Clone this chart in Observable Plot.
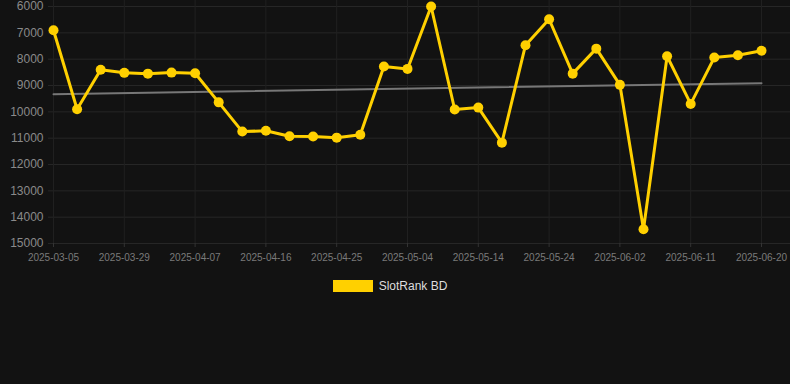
<!DOCTYPE html>
<html>
<head>
<meta charset="utf-8">
<script src="https://cdn.jsdelivr.net/npm/d3@7"></script>
<script src="https://cdn.jsdelivr.net/npm/@observablehq/plot@0.6"></script>
<style>
  html, body { margin: 0; padding: 0; background: #121212; }
  body { width: 790px; height: 384px; overflow: hidden; font-family: Arial, "Liberation Sans", sans-serif; }
  #legend { display: flex; justify-content: center; align-items: center; margin-top: 14px; font-size: 12px; color: #dddddd; position: relative; left: -5px; }
  #legend .sw { width: 40px; height: 12px; background: #FFD000; margin-right: 6px; }
</style>
</head>
<body>
<div id="chart"></div>
<div id="legend"><span class="sw"></span><span>SlotRank BD</span></div>
<script>
const dates = [
  "2025-03-05","2025-03-13","2025-03-21","2025-03-29","2025-04-01","2025-04-04","2025-04-07",
  "2025-04-10","2025-04-13","2025-04-16","2025-04-19","2025-04-22","2025-04-25","2025-04-28",
  "2025-05-01","2025-05-04","2025-05-07","2025-05-11","2025-05-14","2025-05-17","2025-05-21",
  "2025-05-24","2025-05-27","2025-05-30","2025-06-02","2025-06-05","2025-06-08","2025-06-11",
  "2025-06-14","2025-06-17","2025-06-20"
];
const ranks = [
  6900, 9900, 8400, 8520, 8550, 8510, 8535,
  9640, 10750, 10720, 10930, 10940, 10980, 10870,
  8280, 8370, 6000, 9910, 9840, 11170, 7470,
  6485, 8550, 7600, 8975, 14460, 7890, 9700,
  7940, 7850, 7680
];
const trendDates = ["2025-03-05", "2025-06-20"];
const trendValues = [9330, 8910];
const xTicks = ["2025-03-05","2025-03-29","2025-04-07","2025-04-16","2025-04-25","2025-05-04",
                "2025-05-14","2025-05-24","2025-06-02","2025-06-11","2025-06-20"];
const yTicks = [6000, 7000, 8000, 9000, 10000, 11000, 12000, 13000, 14000, 15000];

const data = dates.map((d, i) => ({date: d, rank: ranks[i]}));
const trend = trendDates.map((d, i) => ({date: d, rank: trendValues[i]}));

const chart = Plot.plot({
  width: 790,
  height: 265,
  marginLeft: 48,
  marginRight: 0,
  marginTop: 0,
  marginBottom: 22,
  style: {background: "#121212", color: "#888", fontFamily: "Arial, 'Liberation Sans', sans-serif"},
  x: {type: "point", domain: dates, range: [53, 761], padding: 0, round: false},
  y: {domain: [6000, 15000], range: [6, 243]},
  marks: [
    Plot.ruleY(yTicks, {stroke: "#262626", strokeWidth: 1}),
    Plot.ruleX(xTicks, {stroke: "#202020", strokeWidth: 1}),
    Plot.axisY(yTicks, {tickSize: 0, tickPadding: 5, fontSize: 12, color: "#8a8a8a", label: null, tickFormat: d => String(d)}),
    Plot.axisX(xTicks, {tickSize: 4, tickPadding: 6, fontSize: 10, color: "#7a7a7a", stroke: "#333", label: null}),
    Plot.line(trend, {x: "date", y: "rank", stroke: "#777", strokeWidth: 2}),
    Plot.line(data, {x: "date", y: "rank", stroke: "#FFD000", strokeWidth: 3}),
    Plot.dot(data, {x: "date", y: "rank", r: 5, fill: "#FFD000"})
  ]
});
document.getElementById("chart").appendChild(chart);
</script>
</body>
</html>
